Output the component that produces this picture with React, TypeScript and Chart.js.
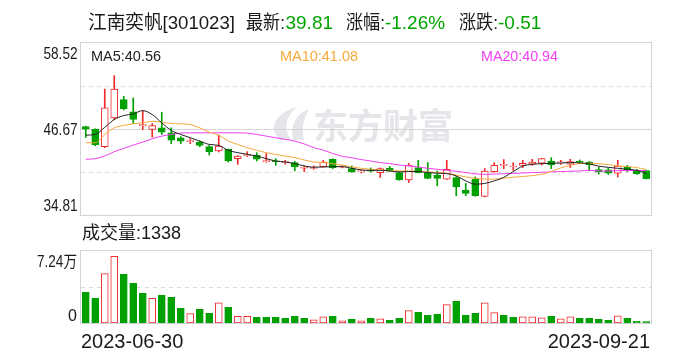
import React, { useEffect, useRef } from "react";
import { Chart, registerables } from "chart.js";

Chart.register(...registerables);

// ---------- data ----------
const dates = [
  "2023-06-30",
  "2023-07-03", "2023-07-04", "2023-07-05", "2023-07-06", "2023-07-07",
  "2023-07-10", "2023-07-11", "2023-07-12", "2023-07-13", "2023-07-14",
  "2023-07-17", "2023-07-18", "2023-07-19", "2023-07-20", "2023-07-21",
  "2023-07-24", "2023-07-25", "2023-07-26", "2023-07-27", "2023-07-28",
  "2023-07-31",
  "2023-08-01", "2023-08-02", "2023-08-03", "2023-08-04",
  "2023-08-07", "2023-08-08", "2023-08-09", "2023-08-10", "2023-08-11",
  "2023-08-14", "2023-08-15", "2023-08-16", "2023-08-17", "2023-08-18",
  "2023-08-21", "2023-08-22", "2023-08-23", "2023-08-24", "2023-08-25",
  "2023-08-28", "2023-08-29", "2023-08-30", "2023-08-31",
  "2023-09-01",
  "2023-09-04", "2023-09-05", "2023-09-06", "2023-09-07", "2023-09-08",
  "2023-09-11", "2023-09-12", "2023-09-13", "2023-09-14", "2023-09-15",
  "2023-09-18", "2023-09-19", "2023-09-20", "2023-09-21",
];

const opens = [
  47.0, 46.65, 44.23, 48.2, 50.71, 49.02, 47.14, 46.6, 46.83, 46.14,
  45.46, 44.92, 44.86, 44.23, 43.63, 43.86, 42.58, 43.0, 43.08, 42.17,
  42.19, 42.03, 42.03, 41.25, 41.22, 41.48, 42.49, 41.4, 41.21, 40.75,
  40.9, 40.66, 41.25, 40.66, 39.65, 41.35, 40.66, 40.33, 39.75, 39.98,
  38.24, 39.75, 37.37, 40.8, 41.66, 41.43, 41.66, 41.8, 41.94, 42.25,
  42.0, 41.8, 42.14, 42.12, 41.07, 41.02, 40.57, 41.43, 40.85, 40.95,
];
const highs = [
  47.05, 46.7, 52.17, 54.0, 51.16, 50.94, 49.11, 47.42, 48.97, 46.83,
  45.6, 45.32, 45.0, 44.4, 45.82, 43.9, 43.0, 43.54, 43.4, 43.27,
  42.58, 42.35, 42.2, 41.57, 41.57, 42.35, 42.55, 41.6, 41.57, 41.0,
  41.3, 41.3, 41.52, 40.75, 41.94, 42.35, 42.03, 40.88, 42.35, 40.1,
  39.16, 40.06, 41.21, 42.03, 42.45, 42.03, 42.35, 42.49, 42.62, 42.72,
  42.35, 42.49, 42.4, 42.2, 41.4, 41.3, 42.35, 41.66, 41.1, 40.98,
];
const lows = [
  45.5, 44.35, 44.1, 48.0, 49.3, 47.42, 46.6, 45.54, 45.91, 44.64,
  44.64, 44.64, 44.23, 43.08, 43.5, 42.12, 41.8, 42.86, 42.25, 42.1,
  41.66, 41.8, 40.88, 40.8, 41.11, 41.4, 41.21, 41.3, 40.7, 40.6,
  40.75, 39.98, 40.8, 39.6, 39.29, 40.6, 39.8, 38.83, 39.7, 37.46,
  37.46, 37.4, 37.3, 40.7, 41.2, 40.97, 41.35, 41.66, 41.7, 41.21,
  41.8, 41.35, 41.9, 40.97, 40.45, 40.4, 40.06, 40.8, 40.4, 39.78,
];
const closes = [
  46.65, 44.5, 49.57, 52.17, 49.47, 47.97, 47.14, 47.14, 46.23, 45.13,
  45.0, 44.96, 44.4, 43.54, 44.31, 42.25, 42.94, 43.04, 42.49, 42.17,
  42.15, 42.03, 41.43, 41.25, 41.27, 42.12, 41.35, 41.48, 40.74, 40.8,
  40.86, 41.21, 40.88, 39.65, 41.7, 40.66, 39.84, 39.84, 41.11, 38.69,
  37.78, 37.46, 40.88, 41.66, 41.66, 41.43, 41.94, 42.12, 42.58, 41.7,
  42.05, 42.17, 42.1, 41.7, 40.74, 40.57, 41.57, 41.02, 40.5, 39.81,
];

const ma5 = [
  45.82, 45.91, 46.9, 47.97, 48.52, 48.75, 49.2, 48.65, 47.52, 46.46,
  45.91, 45.46, 45.0, 44.54, 44.4, 43.72, 43.4, 43.17, 42.94, 42.58,
  42.25, 42.12, 41.89, 41.57, 41.4, 41.43, 41.48, 41.48, 41.25, 41.02,
  40.97, 40.97, 40.88, 40.75, 40.8, 40.8, 40.66, 40.57, 40.52, 40.2,
  39.51, 39.06, 39.16, 39.51, 40.0, 40.8, 41.55, 41.8, 41.89, 41.94,
  41.98, 42.03, 42.0, 41.85, 41.55, 41.38, 41.25, 41.11, 40.97, 40.56,
];
const ma10 = [
  44.77, 44.77, 45.91, 46.83, 47.15, 47.38, 47.52, 47.73, 47.6, 47.42,
  47.38, 47.28, 46.83, 46.23, 45.82, 45.0, 44.54, 44.09, 43.72, 43.4,
  43.17, 42.94, 42.72, 42.39, 42.12, 42.03, 41.89, 41.7, 41.43, 41.25,
  41.11, 41.02, 40.97, 40.88, 40.88, 40.8, 40.75, 40.66, 40.57, 40.33,
  40.06, 39.88, 39.75, 39.75, 39.88, 40.02, 40.11, 40.25, 40.43, 40.8,
  41.3, 41.65, 41.9, 41.94, 41.89, 41.76, 41.57, 41.48, 41.35, 41.08,
];
const ma20 = [
  42.49, 42.58, 42.94, 43.54, 43.99, 44.45, 44.86, 45.32, 45.68, 45.91,
  46.1, 46.14, 46.14, 46.14, 46.14, 46.14, 46.14, 46.1, 45.91, 45.68,
  45.46, 45.23, 45.0, 44.6, 44.1, 43.75, 43.3, 42.9, 42.7, 42.45,
  42.25, 42.03, 41.89, 41.7, 41.57, 41.43, 41.25, 41.11, 40.97, 40.84,
  40.66, 40.48, 40.42, 40.45, 40.5, 40.55, 40.6, 40.66, 40.7, 40.75,
  40.8, 40.84, 40.88, 40.97, 40.88, 40.88, 40.93, 40.93, 40.94, 40.94,
];

const volumes = [
  30900, 25100, 49600, 67100, 49000, 39900, 29900, 24800, 27900, 25800,
  14800, 9400, 13800, 9800, 20400, 15800, 6700, 6700, 5700, 5700,
  5700, 4700, 6700, 4700, 3300, 6300, 6700, 2300, 3700, 2300,
  4700, 4300, 2700, 4700, 12400, 10800, 7700, 8700, 18400, 21800,
  7700, 9800, 20400, 10400, 7700, 5700, 6300, 6300, 5300, 6700,
  4300, 6300, 4700, 4700, 3700, 2700, 7300, 4700, 1700, 1338,
];

const priceMin = 34.81;
const priceMax = 58.52;
const priceTickLabels = ["58.52", "46.67", "34.81"];
const volMax = 72400;
const volTickLabels = ["7.24万", "0"];
const dateTickLabels = [dates[0], dates[dates.length - 1]];

const headerParts = [
  { t: "江南奕帆[301023]", x: 88, w: 147, c: "#1a1a1a" },
  { t: "最新:", x: 246, w: 39, c: "#1a1a1a" },
  { t: "39.81", x: 285.5, w: 47.5, c: "#00a600" },
  { t: "涨幅:", x: 346, w: 39, c: "#1a1a1a" },
  { t: "-1.26%", x: 385, w: 60, c: "#00a600" },
  { t: "涨跌:", x: 459, w: 39, c: "#1a1a1a" },
  { t: "-0.51", x: 498, w: 45, c: "#00a600" },
];
const volumeTitle = "成交量:1338";

// ---------- styles ----------
const RED = "#f0292b";
const GREEN = "#00a000";
const MA5C = "#222222";
const MA10C = "#f6a93b";
const MA20C = "#f23ef2";
const BORDER = "#d3d3da";
const GRID = "#dcdcdc";
const TEXT = "#1a1a1a";
const LAT = '"Liberation Sans", Arial, "Noto Sans CJK SC", sans-serif';

const W = 688;
const H = 360;

function text(ctx: CanvasRenderingContext2D, s: string, x: number, y: number, color: string, font: string, align: CanvasTextAlign = "left", maxW?: number) {
  ctx.save();
  ctx.font = font;
  ctx.fillStyle = color;
  ctx.textAlign = align;
  ctx.textBaseline = "alphabetic";
  if (maxW) ctx.fillText(s, x, y, maxW);
  else ctx.fillText(s, x, y);
  ctx.restore();
}

function hline(ctx: CanvasRenderingContext2D, x0: number, x1: number, y: number, color: string, dash: number[]) {
  ctx.save();
  ctx.strokeStyle = color;
  ctx.lineWidth = 1;
  ctx.setLineDash(dash);
  ctx.beginPath();
  ctx.moveTo(x0, y);
  ctx.lineTo(x1, y);
  ctx.stroke();
  ctx.restore();
}

const pricePlugin = {
  id: "pricePanel",
  beforeDatasetsDraw(chart: any) {
    const { ctx, chartArea } = chart;
    const { left, right, top, bottom } = chartArea;
    const y = chart.scales.y;
    // watermark
    ctx.save();
    ctx.fillStyle = "#e5e5ea";
    ctx.beginPath();
    ctx.moveTo(280, 140);
    ctx.bezierCurveTo(268, 128, 275, 113, 297, 107);
    ctx.bezierCurveTo(285, 117, 283, 129, 291, 140);
    ctx.closePath();
    ctx.fill();
    ctx.beginPath();
    ctx.moveTo(293, 140);
    ctx.bezierCurveTo(290, 125, 296, 114, 309, 109);
    ctx.bezierCurveTo(302, 121, 302, 131, 304, 140);
    ctx.closePath();
    ctx.fill();
    ctx.font = 'bold 35px "Noto Sans CJK SC", sans-serif';
    ctx.textBaseline = "middle";
    ctx.fillText("东方财富", 313, 126);
    ctx.restore();
    // grid
    const span = priceMax - priceMin;
    const q1 = Math.round(y.getPixelForValue(priceMin + span * 0.75)) + 0.5;
    const q2 = Math.round(y.getPixelForValue(priceMin + span * 0.5)) + 0.5;
    const q3 = Math.round(y.getPixelForValue(priceMin + span * 0.25)) + 0.5;
    hline(ctx, left, right, q1, GRID, [4, 4]);
    hline(ctx, left, right, q2, "#d6d6d6", []);
    hline(ctx, left, right, q3, GRID, [4, 4]);
    ctx.save();
    ctx.strokeStyle = BORDER;
    ctx.lineWidth = 1;
    ctx.strokeRect(left - 0.5, top - 0.5, right - left + 1, bottom - top + 1);
    ctx.restore();
  },
  afterDraw(chart: any) {
    const { ctx, chartArea } = chart;
    const { left, top, bottom } = chartArea;
    const y = chart.scales.y;
    headerParts.forEach((p) => text(ctx, p.t, p.x, 29, p.c, `19px ${LAT}`, "left", p.w));
    // y labels
    const yTop = y.getPixelForValue(priceMax);
    const yMid = y.getPixelForValue((priceMax + priceMin) / 2);
    const yBot = y.getPixelForValue(priceMin);
    text(ctx, priceTickLabels[0], left - 3.5, yTop + 15.5, TEXT, `16px ${LAT}`, "right", 34);
    text(ctx, priceTickLabels[1], left - 3.5, yMid + 6, TEXT, `16px ${LAT}`, "right", 34);
    text(ctx, priceTickLabels[2], left - 3.5, yBot - 4, TEXT, `16px ${LAT}`, "right", 34);
    // MA labels
    const f = `15px ${LAT}`;
    text(ctx, "MA5:" + ma5[ma5.length - 1].toFixed(2), 91, top + 18, MA5C, f, "left", 70);
    text(ctx, "MA10:" + ma10[ma10.length - 1].toFixed(2), 280, top + 18, MA10C, f, "left", 78);
    text(ctx, "MA20:" + ma20[ma20.length - 1].toFixed(2), 481, top + 18, MA20C, f, "left", 77);
  },
};

const volPlugin = {
  id: "volPanel",
  beforeDatasetsDraw(chart: any) {
    const { ctx, chartArea } = chart;
    const { left, right, top, bottom } = chartArea;
    const y = chart.scales.y;
    const mid = Math.round(y.getPixelForValue(volMax / 2)) + 0.5;
    hline(ctx, left, right, mid, GRID, [4, 4]);
    ctx.save();
    ctx.strokeStyle = BORDER;
    ctx.lineWidth = 1;
    ctx.strokeRect(left - 0.5, top - 0.5, right - left + 1, bottom - top + 1);
    ctx.restore();
  },
  afterDraw(chart: any) {
    const { ctx, chartArea } = chart;
    const { left, right, top, bottom } = chartArea;
    const y = chart.scales.y;
    text(ctx, volumeTitle, 82, 239, TEXT, `18px ${LAT}`, "left", 101);
    text(ctx, volTickLabels[0], left - 4, y.getPixelForValue(volMax) + 15.5, TEXT, `16px ${LAT}`, "right", 40);
    text(ctx, volTickLabels[1], left - 4, y.getPixelForValue(0) - 2, TEXT, `16px ${LAT}`, "right");
    text(ctx, dateTickLabels[0], left, bottom + 25, TEXT, `20px ${LAT}`, "left");
    text(ctx, dateTickLabels[1], right - 1, bottom + 25, TEXT, `20px ${LAT}`, "right");
  },
};

export default function App() {
  const priceRef = useRef<HTMLCanvasElement | null>(null);
  const volRef = useRef<HTMLCanvasElement | null>(null);

  useEffect(() => {
    const candleUp = closes.map((c, i) => c >= opens[i]);
    const volUp = closes.map((c, i) => c > opens[i]);

    const priceChart = new Chart(priceRef.current as HTMLCanvasElement, {
      type: "bar",
      data: {
        labels: dates,
        datasets: [
          {
            type: "line",
            label: "MA5",
            data: ma5,
            borderColor: MA5C,
            borderWidth: 1,
            pointRadius: 0,
            cubicInterpolationMode: "monotone",
            order: 0,
          } as any,
          {
            type: "line",
            label: "MA10",
            data: ma10,
            borderColor: MA10C,
            borderWidth: 1,
            pointRadius: 0,
            cubicInterpolationMode: "monotone",
            order: 0,
          } as any,
          {
            type: "line",
            label: "MA20",
            data: ma20,
            borderColor: MA20C,
            borderWidth: 1,
            pointRadius: 0,
            cubicInterpolationMode: "monotone",
            order: 0,
          } as any,
          {
            type: "bar",
            label: "body",
            data: opens.map((o, i) => [o, closes[i]]),
            backgroundColor: candleUp.map((u) => (u ? "#ffffff" : GREEN)),
            borderColor: candleUp.map((u) => (u ? RED : GREEN)),
            borderWidth: 1,
            borderSkipped: false,
            barThickness: 7,
            minBarLength: 1,
            grouped: false,
            order: 1,
          } as any,
          {
            type: "bar",
            label: "wick",
            data: lows.map((l, i) => [l, highs[i]]),
            backgroundColor: candleUp.map((u) => (u ? RED : GREEN)),
            borderWidth: 0,
            barThickness: 1,
            grouped: false,
            order: 2,
          } as any,
        ],
      },
      options: {
        animation: false,
        responsive: false,
        maintainAspectRatio: false,
        layout: { padding: { left: 81, right: W - 651, top: 43, bottom: H - 215 } },
        scales: {
          x: { display: false, offset: true },
          y: { display: false, min: priceMin, max: priceMax },
        },
        plugins: { legend: { display: false }, tooltip: { enabled: false } },
      },
      plugins: [pricePlugin],
    });

    const volChart = new Chart(volRef.current as HTMLCanvasElement, {
      type: "bar",
      data: {
        labels: dates,
        datasets: [
          {
            label: "volume",
            data: volumes,
            backgroundColor: volUp.map((u) => (u ? "#ffffff" : GREEN)),
            borderColor: volUp.map((u) => (u ? RED : GREEN)),
            borderWidth: 1,
            borderSkipped: false,
            barThickness: 7,
          } as any,
        ],
      },
      options: {
        animation: false,
        responsive: false,
        maintainAspectRatio: false,
        layout: { padding: { left: 81, right: W - 651, top: 251, bottom: H - 323 } },
        scales: {
          x: { display: false, offset: true },
          y: { display: false, min: 0, max: volMax },
        },
        plugins: { legend: { display: false }, tooltip: { enabled: false } },
      },
      plugins: [volPlugin],
    });

    return () => {
      priceChart.destroy();
      volChart.destroy();
    };
  }, []);

  return (
    <div style={{ position: "fixed", left: 0, top: 0, width: W, height: H, background: "#ffffff" }}>
      <canvas ref={priceRef} width={W} height={H} style={{ position: "absolute", left: 0, top: 0, width: W, height: H }} />
      <canvas ref={volRef} width={W} height={H} style={{ position: "absolute", left: 0, top: 0, width: W, height: H }} />
    </div>
  );
}
